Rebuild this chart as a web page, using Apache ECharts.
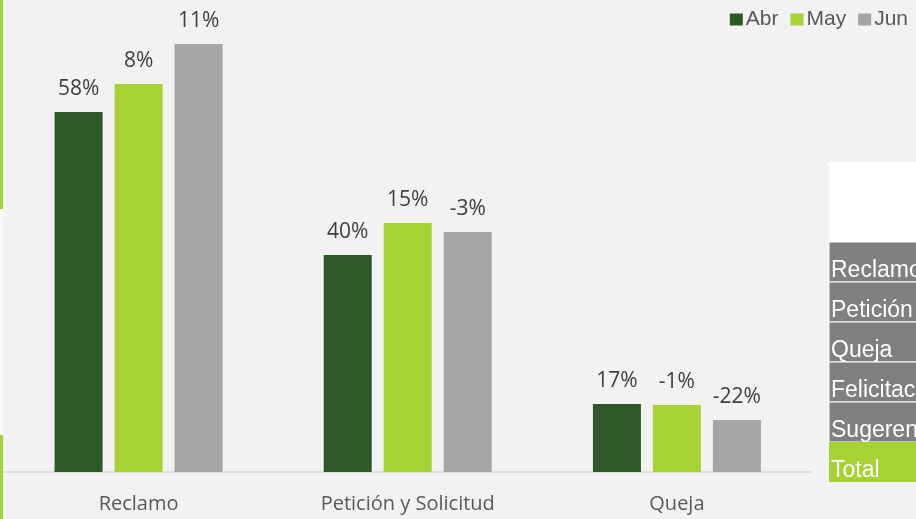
<!DOCTYPE html>
<html>
<head>
<meta charset="utf-8">
<script src="https://cdn.jsdelivr.net/npm/echarts@6/dist/echarts.min.js"></script>
<style>
html,body{margin:0;padding:0;background:#f2f2f2;}
#c{width:916px;height:519px;}
</style>
</head>
<body>
<div id="c"></div>
<script>
const categories = ['Reclamo', 'Petición y Solicitud', 'Queja'];
const seriesNames = ['Abr', 'May', 'Jun'];
const abrValues = [360, 217, 68];
const mayValues = [388, 249, 67];
const junValues = [428, 240, 52];
const abrGrowth = ['58%', '40%', '17%'];
const mayGrowth = ['8%', '15%', '-1%'];
const junGrowth = ['11%', '-3%', '-22%'];
const tableRows = ['Reclamo', 'Petición', 'Queja', 'Felicitac', 'Sugeren', 'Total'];

const colors = ['#2e5827', '#a6d234', '#a5a5a5'];
const values = [abrValues, mayValues, junValues];
const growth = [abrGrowth, mayGrowth, junGrowth];

const chart = echarts.init(document.getElementById('c'));

const rowTop = 242, rowH = 40;
const tableGraphics = [
  {type: 'rect', shape: {x: 829, y: 162, width: 100, height: 80}, style: {fill: '#ffffff'}}
];
tableRows.forEach((t, i) => {
  const isTotal = i === tableRows.length - 1;
  tableGraphics.push({
    type: 'rect',
    shape: {x: 829, y: rowTop + i * rowH, width: 100, height: rowH},
    style: {fill: isTotal ? '#a6d234' : '#808080', stroke: '#ffffff', lineWidth: isTotal ? 0 : 1}
  });
  tableGraphics.push({
    type: 'text',
    x: 831, y: rowTop + i * rowH + rowH,
    style: {text: t, fill: '#ffffff', font: '23px "Liberation Sans", Arial', textVerticalAlign: 'bottom'}
  });
});

const option = {
  backgroundColor: '#f2f2f2',
  animation: false,
  grid: {left: 4, right: 104.5, top: 22, bottom: 47, containLabel: false},
  legend: {
    data: seriesNames,
    right: 3, top: 4,
    icon: 'rect', itemWidth: 13, itemHeight: 12, itemGap: 12,
    textStyle: {fontSize: 21, fontFamily: '"Liberation Sans", Arial', color: '#595959', padding: [0, 0, 0, -2]}
  },
  xAxis: {
    type: 'category',
    data: categories,
    axisLine: {lineStyle: {color: '#d9d9d9', width: 1.5}},
    axisTick: {show: false},
    axisLabel: {fontSize: 20, fontFamily: '"Open Sans", sans-serif', color: '#595959', margin: 22}
  },
  yAxis: {
    type: 'value', min: 0, max: 450,
    show: false, splitLine: {show: false}
  },
  graphic: [
    {type: 'rect', shape: {x: 0, y: 0, width: 3, height: 209}, style: {fill: '#a6d234'}},
    {type: 'rect', shape: {x: 0, y: 209, width: 3, height: 226}, style: {fill: '#f8f8f8'}},
    {type: 'rect', shape: {x: 0, y: 435, width: 3, height: 84}, style: {fill: '#a6d234'}}
  ].concat(tableGraphics),
  series: seriesNames.map((name, s) => ({
    name: name,
    type: 'bar',
    data: values[s],
    barWidth: 48,
    barGap: '25%',
    itemStyle: {color: colors[s]},
    label: {
      show: true, position: 'top', distance: 12,
      fontSize: 21, fontFamily: '"Open Sans", sans-serif', color: '#404040',
      formatter: p => growth[s][p.dataIndex]
    }
  }))
};
chart.setOption(option);
</script>
</body>
</html>
